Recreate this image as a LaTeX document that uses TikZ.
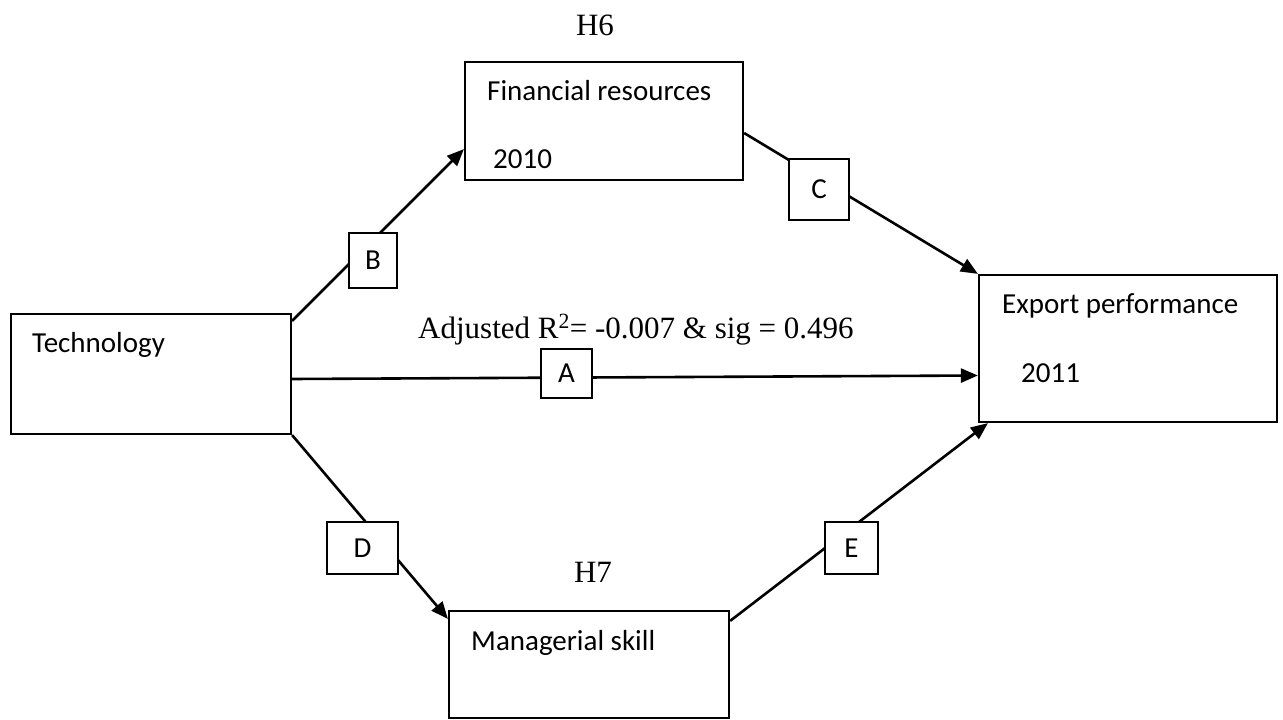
\documentclass[tikz,border=0pt]{standalone}
\usepackage{fontspec}
\setmainfont{Carlito}
\newfontfamily\serifrm{Liberation Serif}
\usetikzlibrary{arrows.meta}
\begin{document}
\begin{tikzpicture}[x=1pt,y=-1pt,
  box/.style={draw,line width=2.2pt,inner sep=0pt,rectangle},
  lbl/.style={anchor=base west,inner sep=0pt,font=\fontsize{29}{34}\selectfont},
  tag/.style={draw,fill=white,line width=2pt,inner sep=0pt,font=\fontsize{29}{34}\selectfont},
  hyp/.style={anchor=base,inner sep=0pt,font=\serifrm\fontsize{31}{36}\selectfont},
  link/.style={line width=2.6pt},
  arr/.style={link,-{Triangle[length=17pt,width=14pt]}}]
\useasboundingbox (0,0) rectangle (1283,720);

% variable boxes
\node[box,minimum width=280pt,minimum height=120pt] (tech) at (151,374) {};
\node[box,minimum width=278pt,minimum height=118pt] (fin)  at (604,121) {};
\node[box,minimum width=298pt,minimum height=147pt] (exp)  at (1128,348.5) {};
\node[box,minimum width=280pt,minimum height=107pt] (mgr)  at (589,664.5) {};

% box texts
\node[lbl] (techT) at (32,352) {Technology};
\node[lbl] (finT)  at (487,100) {Financial resources};
\node[lbl] (finY)  at (493,168) {2010};
\node[lbl] (expT)  at (1002,313) {Export performance};
\node[lbl] (expY)  at (1021,382) {2011};
\node[lbl] (mgrT)  at (471,650) {Managerial skill};

% hypothesis labels and fit statistics
\node[hyp] (h6) at (595,35) {H6};
\node[hyp] (h7) at (593,582) {H7};
\node[anchor=base west,inner sep=0pt,font=\serifrm\fontsize{31}{36}\selectfont] (stat) at (418,338)
  {Adjusted R\textsuperscript{2}= -0.007 \& sig = 0.496};

% paths
\draw[arr] ([yshift=-8pt]tech.north east) -- ([yshift=32pt]fin.south west);
\draw[arr] ([yshift=-12pt]fin.east) -- (exp.north west);
\draw[arr] ([yshift=-5pt]tech.east) -- ([yshift=-27pt]exp.west);
\draw[arr] (tech.south east) -- ([yshift=-9pt]mgr.north west);
\draw[arr] ([yshift=-11pt]mgr.north east) -- ([xshift=10pt]exp.south west);

% path tags
\node[tag,minimum width=51pt,minimum height=49pt] (tA) at (566.5,373.5) {A};
\node[tag,minimum width=48pt,minimum height=55pt] (tB) at (373,260.5) {B};
\node[tag,minimum width=60pt,minimum height=61pt] (tC) at (819,189.5) {C};
\node[tag,minimum width=71pt,minimum height=52pt] (tD) at (362.5,548) {D};
\node[tag,minimum width=53pt,minimum height=52pt] (tE) at (851.5,548) {E};
\end{tikzpicture}
\end{document}
